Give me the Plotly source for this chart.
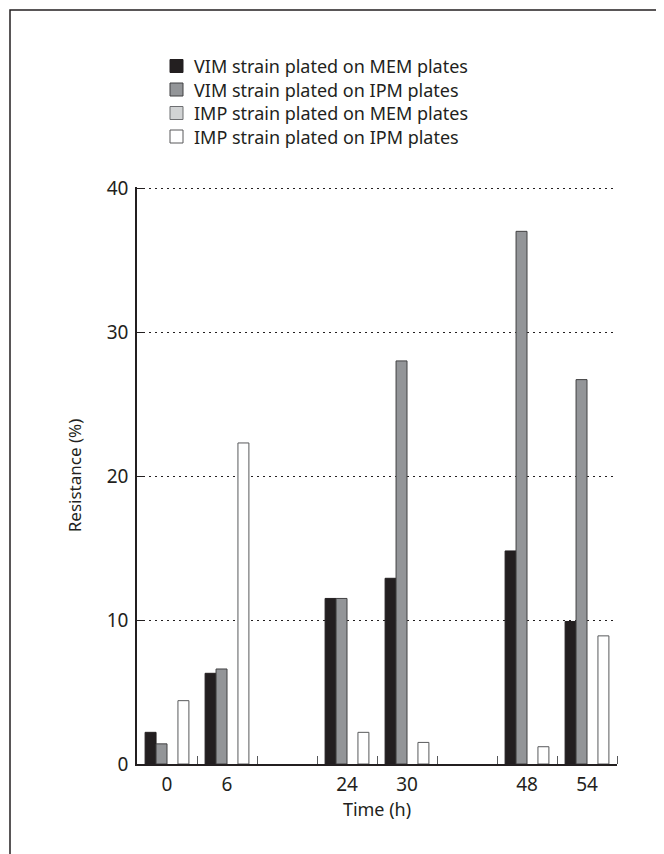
import plotly.graph_objects as go

# Time slots (None = empty slot on the axis)
time_labels = ["0", "6", None, "24", "30", None, "48", "54"]

vim_mem = [2.2, 6.3, None, 11.5, 12.9, None, 14.8, 9.9]
vim_ipm = [1.4, 6.6, None, 11.5, 28.0, None, 37.0, 26.7]
imp_mem = [0, 0, None, 0, 0, None, 0, 0]
imp_ipm = [4.4, 22.3, None, 2.2, 1.5, None, 1.2, 8.9]

series_names = [
    "VIM strain plated on MEM plates",
    "VIM strain plated on IPM plates",
    "IMP strain plated on MEM plates",
    "IMP strain plated on IPM plates",
]
y_ticks = [0, 10, 20, 30, 40]

fills = ["#231f20", "#939598", "#d1d3d4", "#ffffff"]
outlines = ["#231f20", "#414042", "#6d6e71", "#58595b"]

# page body has an 8px margin: figure is 656x846 so it fits the 664x854 window
W, H = 656, 846
PL, PR, PT, PB = 129, 47, 179, 90
PW, PH = W - PL - PR, H - PT - PB


def px(xref_px):  # reference-image x pixel -> paper
    return (xref_px - 8 - PL) / PW


def py(yref_px):  # reference-image y pixel -> paper
    return (H - PB - (yref_px - 8)) / PH


x_pos = list(range(len(time_labels)))
fig = go.Figure()
for name, vals, fc, lc in zip(series_names, [vim_mem, vim_ipm, imp_mem, imp_ipm], fills, outlines):
    lw = 0 if all(v in (0, None) for v in vals) else 1
    fig.add_trace(go.Bar(
        x=x_pos, y=vals, name=name, showlegend=False,
        marker=dict(color=fc, line=dict(color=lc, width=lw)),
    ))

label_pos = [i for i, t in enumerate(time_labels) if t is not None]
label_txt = [t for t in time_labels if t is not None]
boundaries = [i + 0.5 for i in x_pos]

# legend drawn as squares + text
shapes = []
annotations = []
for i, (name, fc, lc) in enumerate(zip(series_names, fills, outlines)):
    cy = 66 + 23.5 * i
    shapes.append(dict(
        type="rect", xref="paper", yref="paper",
        x0=px(170), x1=px(183), y0=py(cy + 6.5), y1=py(cy - 6.5),
        fillcolor=fc, line=dict(color=lc if i != 0 else "#231f20", width=1),
    ))
    annotations.append(dict(
        xref="paper", yref="paper", x=px(192), y=py(cy + 0.5),
        xanchor="left", yanchor="middle", text=name, showarrow=False,
        font=dict(size=18, color="#231f20"),
    ))

# outer frame
shapes.append(dict(
    type="rect", xref="paper", yref="paper",
    x0=px(10), x1=px(700), y0=py(900), y1=py(10),
    line=dict(color="#231f20", width=1.5), fillcolor="rgba(0,0,0,0)",
    layer="below",
))

FONT = "Noto Sans"
fig.update_layout(
    width=W, height=H,
    margin=dict(l=PL, r=PR, t=PT, b=PB),
    paper_bgcolor="white", plot_bgcolor="white",
    barmode="group", bargap=0.27, bargroupgap=0,
    font=dict(family=FONT, color="#231f20", size=17),
    showlegend=False,
    xaxis=dict(
        range=[-0.5, 7.5],
        tickmode="array", tickvals=label_pos, ticktext=label_txt,
        ticks="", showgrid=False, zeroline=False,
        showline=True, linecolor="#231f20", linewidth=1.5,
        tickfont=dict(size=19, color="#231f20"),
        ticklabelstandoff=2,
        minor=dict(tickmode="array", tickvals=boundaries, ticks="inside",
                   ticklen=8, tickcolor="#58595b", tickwidth=1.2, showgrid=False),
        title=dict(text="Time (h)", font=dict(size=18, color="#231f20"), standoff=0),
    ),
    yaxis=dict(
        range=[0, 40.08], tickvals=y_ticks,
        ticks="inside", ticklen=8, tickcolor="#231f20", tickwidth=1,
        showline=True, linecolor="#231f20", linewidth=1.5,
        showgrid=True, gridcolor="#231f20", gridwidth=1, griddash="1.5px,4.5px",
        zeroline=False,
        tickfont=dict(size=19, color="#231f20"),
        ticklabelstandoff=3,
        title=dict(text="Resistance (%)", font=dict(size=17, color="#231f20"), standoff=21),
    ),
    shapes=shapes,
    annotations=annotations,
)

fig.write_html("out.html")
